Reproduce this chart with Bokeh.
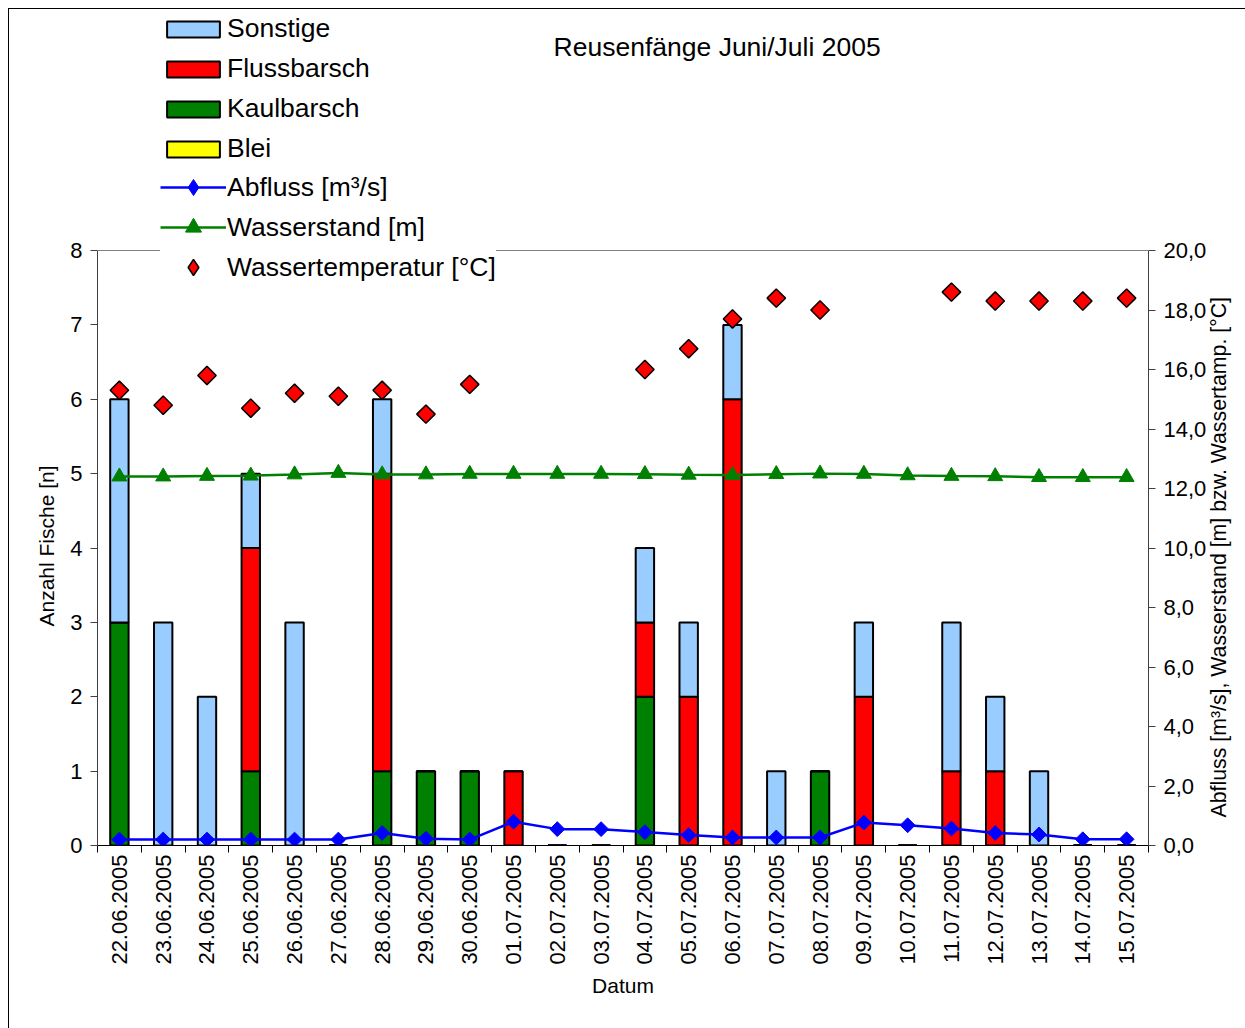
import math
from bokeh.plotting import figure
from bokeh.models import (Range1d, LinearAxis, FixedTicker, Legend, LegendItem,
                          Label, ColumnDataSource, Span)
from bokeh.embed import file_html
from bokeh.resources import INLINE

NaN = float("nan")

dates = ["22.06.2005", "23.06.2005", "24.06.2005", "25.06.2005", "26.06.2005",
         "27.06.2005", "28.06.2005", "29.06.2005", "30.06.2005", "01.07.2005",
         "02.07.2005", "03.07.2005", "04.07.2005", "05.07.2005", "06.07.2005",
         "07.07.2005", "08.07.2005", "09.07.2005", "10.07.2005", "11.07.2005",
         "12.07.2005", "13.07.2005", "14.07.2005", "15.07.2005"]

blei = [0] * 24
kaulbarsch = [3, 0, 0, 1, 0, 0, 1, 1, 1, 0, 0, 0, 2, 0, 0, 0, 1, 0, 0, 0, 0, 0, 0, 0]
flussbarsch = [0, 0, 0, 3, 0, 0, 4, 0, 0, 1, 0, 0, 1, 2, 6, 0, 0, 2, 0, 1, 1, 0, 0, 0]
sonstige = [3, 3, 2, 1, 3, 0, 1, 0, 0, 0, 0, 0, 1, 1, 1, 1, 0, 1, 0, 2, 1, 1, 0, 0]

abfluss = [0.2, 0.2, 0.2, 0.2, 0.2, 0.2, 0.42, 0.23, 0.2, 0.8, 0.55, 0.55,
           0.45, 0.35, 0.27, 0.27, 0.27, 0.77, 0.68, 0.57, 0.42, 0.37, 0.21, 0.21]
wasserstand = [12.40, 12.40, 12.42, 12.43, 12.47, 12.52, 12.47, 12.47, 12.49, 12.49,
               12.49, 12.49, 12.48, 12.46, 12.45, 12.48, 12.50, 12.49, 12.44, 12.42,
               12.41, 12.38, 12.38, 12.38]
temperatur = [15.3, 14.8, 15.8, 14.7, 15.2, 15.1, 15.3, 14.5, 15.5, NaN, NaN, NaN,
              16.0, 16.7, 17.7, 18.4, 18.0, NaN, NaN, 18.6, 18.3, 18.3, 18.3, 18.4]

left_ticks = [0, 1, 2, 3, 4, 5, 6, 7, 8]
right_ticks = [0, 2, 4, 6, 8, 10, 12, 14, 16, 18, 20]
left_max, right_max = 8, 20

title_text = "Reusenfänge Juni/Juli 2005"
left_title = "Anzahl Fische [n]"
right_title = "Abfluss [m³/s], Wasserstand [m] bzw. Wassertamp. [°C]"
x_title = "Datum"
FONT = "Liberation Sans"

# layout (pixels): frame spans whole height above x axis; value axes occupy the lower part
FRAME_H = 836
AXIS_H = 595
lscale = FRAME_H / AXIS_H

x = list(range(len(dates)))
src = ColumnDataSource(dict(x=x, Blei=blei, Kaulbarsch=kaulbarsch,
                            Flussbarsch=flussbarsch, Sonstige=sonstige,
                            abfluss=abfluss, wasserstand=wasserstand,
                            temperatur=temperatur))

p = figure(width=1237, height=1020, output_backend="svg", toolbar_location=None,
           x_range=Range1d(-0.5, len(dates) - 0.5),
           y_range=Range1d(0, left_max * lscale),
           min_border_left=88, min_border_right=96, min_border_top=0,
           min_border_bottom=1020 - FRAME_H)
p.margin = (8, 0, 0, 8)
p.styles = {"border-top": "1px solid #000000", "border-left": "1px solid #000000"}
p.extra_y_ranges = {"r": Range1d(0, right_max * lscale)}
p.grid.visible = False
p.outline_line_color = None
p.background_fill_color = "white"
p.border_fill_color = "white"

# top border of the plotting area
p.add_layout(Span(location=left_max, dimension="width", line_color="#808080", line_width=1))

colors = ["#FFFF00", "#008000", "#FF0000", "#99CCFF"]
bars = p.vbar_stack(["Blei", "Kaulbarsch", "Flussbarsch", "Sonstige"], x="x",
                    width=0.42, source=src, color=colors,
                    line_color="black", line_width=2)
for b, c in zip(bars, colors):
    b.glyph.fill_color = c
    b.glyph.line_color = "black"

la = p.line("x", "abfluss", source=src, y_range_name="r", color="#0000FF", line_width=2.5)
p.scatter("x", "abfluss", source=src, y_range_name="r", marker="square",
          angle=math.pi / 4, size=10.5, fill_color="#0000FF", line_color="#0000FF")
lw = p.line("x", "wasserstand", source=src, y_range_name="r", color="#008000", line_width=2.5)
sw = p.scatter("x", "wasserstand", source=src, y_range_name="r", marker="triangle",
               size=15, fill_color="#008000", line_color="#008000")
p.scatter("x", "temperatur", source=src, y_range_name="r", marker="square",
          angle=math.pi / 4, size=13, fill_color="#FF0000", line_color="black",
          line_width=1.5)

# legend-only marker renderers (diamonds, not drawn in the plot)
leg_a = p.scatter(x=[NaN], y=[NaN], y_range_name="r", marker="diamond",
                  fill_color="#0000FF", line_color="#0000FF")
leg_t = p.scatter(x=[NaN], y=[NaN], y_range_name="r", marker="diamond",
                  fill_color="#FF0000", line_color="black", line_width=1.5)

# x axis
xa = p.xaxis[0]
xa.ticker = FixedTicker(ticks=x, minor_ticks=[i - 0.5 for i in range(len(dates) + 1)])
xa.major_label_overrides = {i: d for i, d in enumerate(dates)}
xa.major_label_orientation = math.pi / 2
xa.major_tick_line_color = None
xa.major_tick_out = 0
xa.major_tick_in = 0
xa.minor_tick_out = 7
xa.minor_tick_in = 0
xa.minor_tick_line_color = "black"
xa.axis_line_color = "black"
xa.major_label_standoff = 2
xa.axis_label = x_title
xa.axis_label_standoff = 6

# left axis
ya = p.yaxis[0]
ya.ticker = FixedTicker(ticks=left_ticks)
ya.bounds = (0, left_max)
ya.minor_tick_line_color = None
ya.major_tick_out = 7
ya.major_tick_in = 0
ya.axis_line_color = "#404040"
ya.major_tick_line_color = "#404040"
ya.major_label_standoff = 8

# right axis
ra = LinearAxis(y_range_name="r", ticker=FixedTicker(ticks=right_ticks))
ra.bounds = (0, right_max)
ra.major_label_overrides = {v: ("%.1f" % v).replace(".", ",") for v in right_ticks}
ra.minor_tick_line_color = None
ra.major_tick_out = 7
ra.major_tick_in = 0
ra.axis_line_color = "#404040"
ra.major_tick_line_color = "#404040"
ra.major_label_standoff = 8
p.add_layout(ra, "right")

# axis titles (vertical, reading upwards) placed as single tick labels
LT_POS = 5.11    # anchor of the left title (end of text)
RT_POS = 0.94    # anchor of the right title (start of text)
lt = LinearAxis(ticker=FixedTicker(ticks=[LT_POS]))
lt.major_label_overrides = {LT_POS: left_title}
rt = LinearAxis(y_range_name="r", ticker=FixedTicker(ticks=[RT_POS]))
rt.major_label_overrides = {RT_POS: right_title}
for ax, so, fs in [(lt, 21, "21px"), (rt, 10, "21.3px")]:
    ax.axis_line_color = None
    ax.major_tick_line_color = None
    ax.minor_tick_line_color = None
    ax.major_tick_out = 0
    ax.major_tick_in = 0
    ax.major_label_orientation = math.pi / 2
    ax.major_label_standoff = so
    ax.major_label_text_font = FONT
    ax.major_label_text_font_size = fs
    ax.major_label_text_color = "black"
p.add_layout(lt, "left")
p.add_layout(rt, "right")

for ax in [xa, ya, ra]:
    ax.major_label_text_font = FONT
    ax.major_label_text_font_size = "22px"
    ax.major_label_text_color = "black"
    ax.axis_label_text_font = FONT
    ax.axis_label_text_font_size = "21px"
    ax.axis_label_text_font_style = "normal"
    ax.axis_label_text_color = "black"

p.add_layout(Label(x=13.65, y=(FRAME_H - 37) / AXIS_H * left_max, text=title_text,
                   text_align="center", text_baseline="middle", text_font=FONT,
                   text_font_size="26.5px", text_color="black"))

legend1 = Legend(items=[
    LegendItem(label="Sonstige", renderers=[bars[3]]),
    LegendItem(label="Flussbarsch", renderers=[bars[2]]),
    LegendItem(label="Kaulbarsch", renderers=[bars[1]]),
    LegendItem(label="Blei", renderers=[bars[0]]),
], location=(63, 681), glyph_height=20, label_height=30, spacing=9)
legend2 = Legend(items=[
    LegendItem(label="Abfluss [m³/s]", renderers=[la, leg_a]),
    LegendItem(label="Wasserstand [m]", renderers=[lw, sw]),
    LegendItem(label="Wassertemperatur [°C]", renderers=[leg_t]),
], location=(63, 558), glyph_height=40, label_height=30, spacing=0)
for lg in [legend1, legend2]:
    lg.background_fill_color = "white"
    lg.background_fill_alpha = 1
    lg.border_line_color = None
    lg.padding = 0
    lg.margin = 0
    lg.glyph_width = 66
    lg.label_standoff = 1
    lg.label_text_font = FONT
    lg.label_text_font_size = "26.5px"
    lg.label_text_color = "black"
    p.add_layout(lg)

open("out.html", "w").write(file_html(p, INLINE))
